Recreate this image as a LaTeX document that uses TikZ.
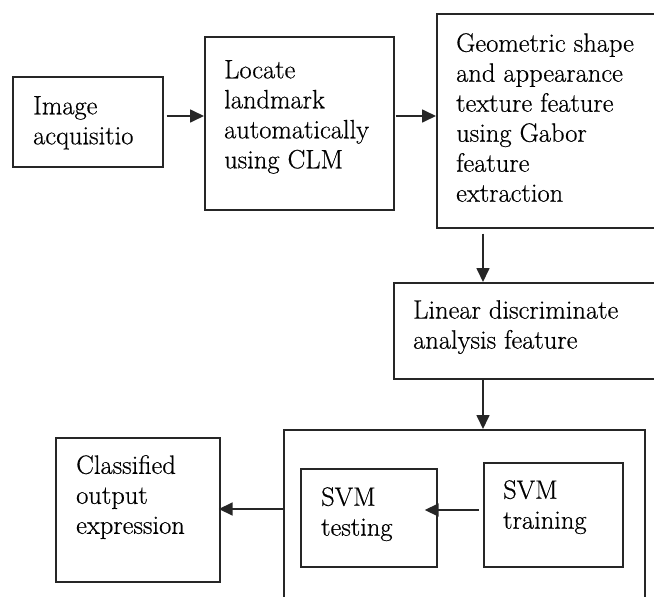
\documentclass[tikz,border=0pt]{standalone}
\usepackage{fontspec}
\newfontfamily\lmx[FakeBold=0.5]{Latin Modern Roman}
\usetikzlibrary{arrows.meta,calc}
\tikzset{
  boxx/.style={draw=black!85, line width=1.7pt, inner sep=0pt, anchor=north west},
  txt/.style={anchor=north west, inner sep=0pt, align=left, font=\lmx\fontsize{26.5pt}{30pt}\selectfont},
  arr/.style={draw=black!85, line width=1.7pt, -{Triangle[length=14pt,width=13pt]}}
}
\begin{document}
\begin{tikzpicture}[x=1pt,y=-1pt]
\useasboundingbox (0,0) rectangle (654,597);
\clip (0,0) rectangle (654,597);
% boxes
\node[boxx, minimum width=150pt, minimum height=90pt] (img) at (12,76) {};
\node[boxx, minimum width=189pt, minimum height=173pt] (loc) at (204,36) {};
\node[boxx, minimum width=228pt, minimum height=214pt] (geo) at (436,13) {};
\node[boxx, minimum width=271pt, minimum height=96pt] (lda) at (393,282) {};
\node[boxx, minimum width=361pt, minimum height=181pt] (svm) at (283,429) {};
\node[boxx, minimum width=136pt, minimum height=98pt] (test) at (300,468) {};
\node[boxx, minimum width=139pt, minimum height=104pt] (train) at (483,462) {};
\node[boxx, minimum width=164pt, minimum height=144pt] (cls) at (55,437) {};
% texts
\node[txt] (timg) at (33,96) {Image\\acquisitio};
\node[txt] (tloc) at (224,60) {Locate\\landmark\\automatically\\using CLM};
\node[txt] (tgeo) at (456,33) {Geometric shape\\and appearance\\texture feature\\using Gabor\\feature\\extraction};
\node[txt] (tlda) at (413,300) {Linear discriminate\\analysis feature};
\node[txt] (ttest) at (321,487) {SVM\\testing};
\node[txt] (ttrain) at (503,480) {SVM\\training};
\node[txt] (tcls) at (76,455) {Classified\\output\\expression};
% helper coordinates
\coordinate (ya) at (0,116);
\coordinate (xv) at (483,0);
\coordinate (ys) at (0,510);
\coordinate (yc) at (0,509);
% connectors
\draw[arr, shorten <=3pt] (img.east |- ya) -- (loc.west |- ya);
\draw[arr, shorten <=1pt] (loc.east |- ya) -- (geo.west |- ya);
\draw[arr, shorten <=5pt] (geo.south -| xv) -- (lda.north -| xv);
\draw[arr] (lda.south -| xv) -- (svm.north -| xv);
\draw[arr, shorten <=4pt, shorten >=-13pt] (train.west |- ys) -- (test.east |- ys);
\draw[arr, shorten >=-2pt] (svm.west |- yc) -- (cls.east |- yc);
\end{tikzpicture}
\end{document}
